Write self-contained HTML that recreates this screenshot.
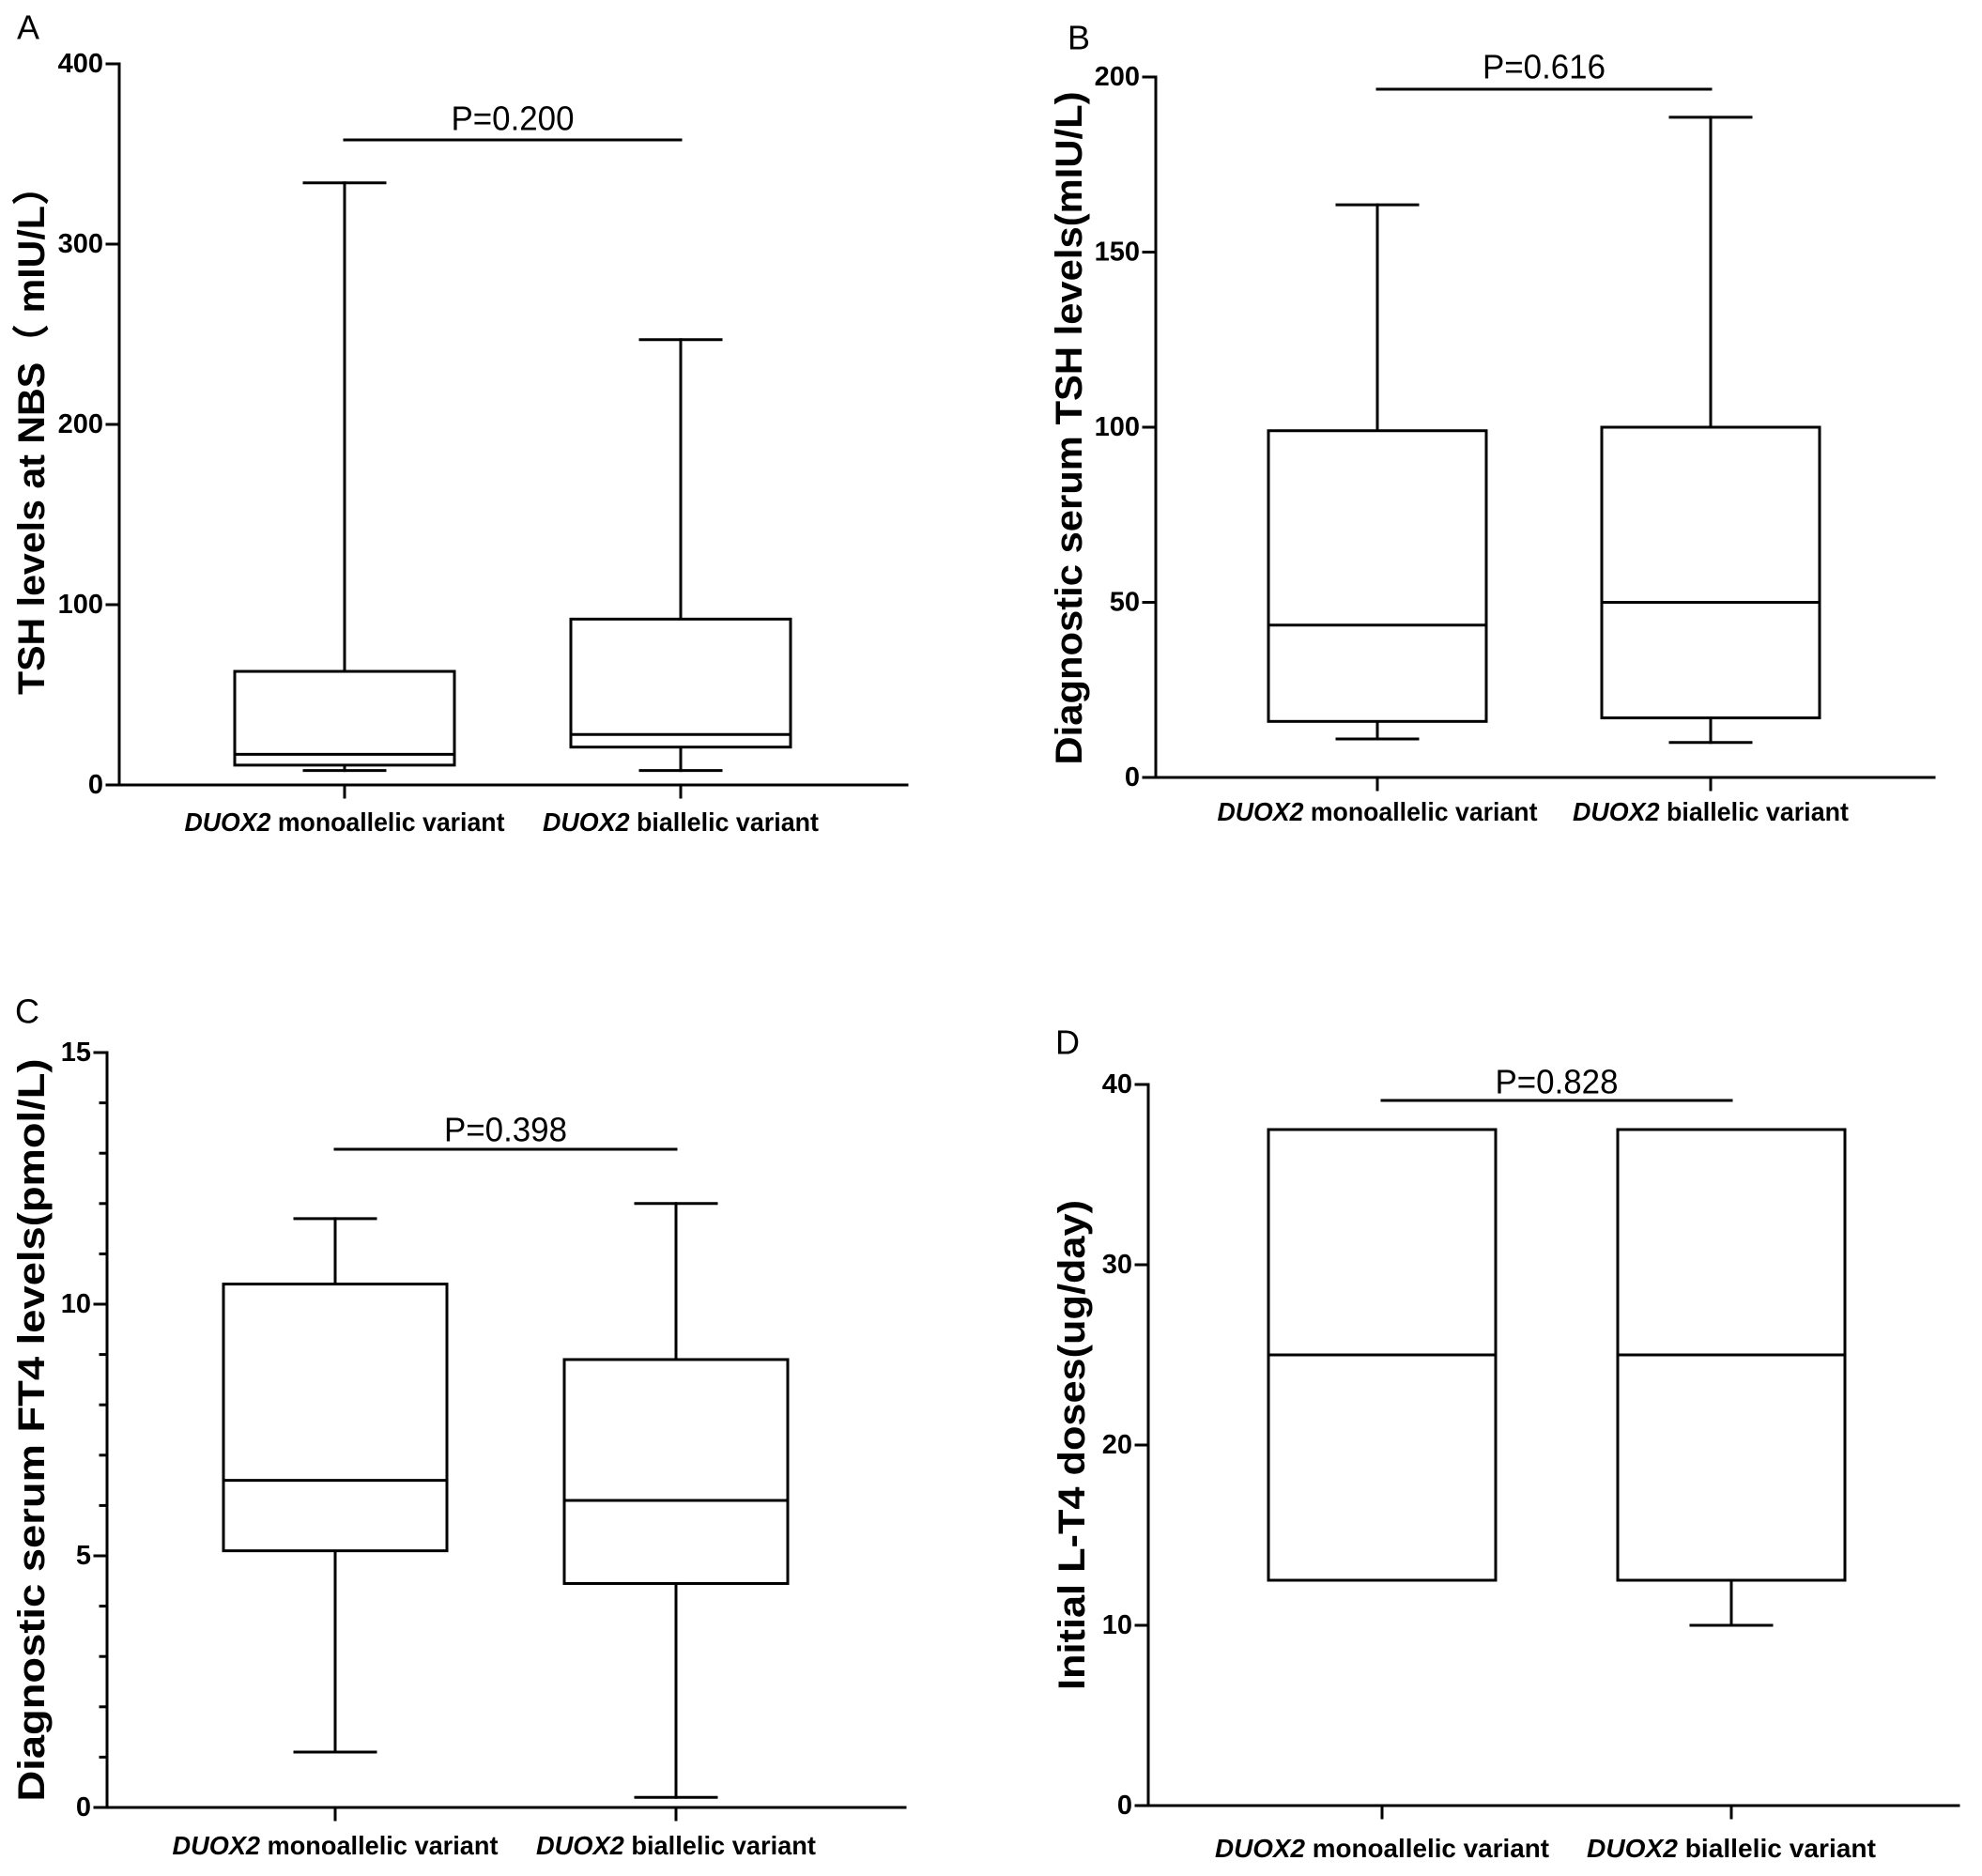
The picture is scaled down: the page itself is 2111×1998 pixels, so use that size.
<!DOCTYPE html>
<html><head><meta charset="utf-8">
<style>
html,body{margin:0;padding:0;background:#fff;}
svg{display:block;}
text{font-family:"Liberation Sans Narrow","Liberation Sans",sans-serif;fill:#000;}
</style></head>
<body>
<svg id="fig" width="2111" height="1998" viewBox="0 0 2111 1998" xmlns="http://www.w3.org/2000/svg"></svg>
<script>
// ---- data ----
const categories = ["monoallelic variant", "biallelic variant"];
// Panel A: TSH at NBS
const aMin = [8, 8];
const aQ1 = [11, 21];
const aMed = [17, 28];
const aQ3 = [63, 92];
const aMax = [334, 247];
const aTicks = [0, 100, 200, 300, 400];
// Panel B: Diagnostic serum TSH
const bMin = [11, 10];
const bQ1 = [16, 17];
const bMed = [43.5, 50];
const bQ3 = [99, 100];
const bMax = [163.5, 188.5];
const bTicks = [0, 50, 100, 150, 200];
// Panel C: FT4
const cMin = [1.1, 0.2];
const cQ1 = [5.1, 4.45];
const cMed = [6.5, 6.1];
const cQ3 = [10.4, 8.9];
const cMax = [11.7, 12.0];
const cTicks = [0, 5, 10, 15];
const cMinorTicks = [1, 2, 3, 4, 6, 7, 8, 9, 11, 12, 13, 14];
// Panel D: L-T4 doses
const dMin = [12.5, 10];
const dQ1 = [12.5, 12.5];
const dMed = [25, 25];
const dQ3 = [37.5, 37.5];
const dMax = [37.5, 37.5];
const dTicks = [0, 10, 20, 30, 40];
const pValues = ["P=0.200", "P=0.616", "P=0.398", "P=0.828"];

const NS = "http://www.w3.org/2000/svg";
const svg = document.getElementById("fig");
function el(tag, attrs, parent, txt){
  const e = document.createElementNS(NS, tag);
  for (const k in attrs) e.setAttribute(k, attrs[k]);
  if (txt !== undefined) e.textContent = txt;
  (parent || svg).appendChild(e);
  return e;
}
function line(g, x1, y1, x2, y2, name){
  const l = el("line", {x1, y1, x2, y2, stroke:"#000", "stroke-width":3, "stroke-linecap":"square"}, g);
  
  
  return l;
}

function panel(cfg){
  const g = el("g", {});
  
  
  const y = v => cfg.y0 - (v - cfg.vmin) / (cfg.vmax - cfg.vmin) * (cfg.y0 - cfg.y1);
  // letter
  const lt = el("text", {x: cfg.letter[0], y: cfg.letter[1], "font-size":36, "dominant-baseline":"middle"}, g, cfg.letterText);
  
  
  // axes
  line(g, cfg.ax, y(cfg.vmax), cfg.ax, cfg.y0, "y-axis");
  line(g, cfg.ax, cfg.y0, cfg.xend, cfg.y0, "x-axis");
  cfg.ticks.forEach(t => {
    line(g, cfg.ax - 13, y(t), cfg.ax, y(t), "y-tick");
    const tx = el("text", {x: cfg.ax - 17, y: y(t), "font-size":29, "font-weight":"bold", "text-anchor":"end", "dominant-baseline":"central"}, g, String(t));
    
    
  });
  (cfg.minor || []).forEach(t => line(g, cfg.ax - 7, y(t), cfg.ax, y(t), "y-minor-tick"));
  // y title
  const yt = el("text", {x: 0, y: 0, "font-size":40, "font-weight":"bold", "text-anchor":"middle", "dominant-baseline":"central",
    textLength: cfg.ylen, lengthAdjust:"spacingAndGlyphs",
    transform:`translate(${cfg.ytx},${cfg.yty}) rotate(-90)`, style:'font-family:"Liberation Sans","Noto Sans CJK SC",sans-serif'}, g, cfg.ytitle);
  
  
  // boxes
  categories.forEach((c, i) => {
    const cx = cfg.cx[i], hw = cfg.hw, cap = 43;
    line(g, cx, cfg.y0, cx, cfg.y0 + 13, "x-tick");
    const bg = el("g", {}, g);
    
    
    const d = cfg.data;
    if (d.max[i] > d.q3[i]) { line(bg, cx, y(d.max[i]), cx, y(d.q3[i]), "upper-whisker"); line(bg, cx - cap, y(d.max[i]), cx + cap, y(d.max[i]), "upper-cap"); }
    if (d.min[i] < d.q1[i]) { line(bg, cx, y(d.q1[i]), cx, y(d.min[i]), "lower-whisker"); line(bg, cx - cap, y(d.min[i]), cx + cap, y(d.min[i]), "lower-cap"); }
    const r = el("rect", {x: cx - hw, y: y(d.q3[i]), width: 2 * hw, height: y(d.q1[i]) - y(d.q3[i]), fill:"#fff", stroke:"#000", "stroke-width":3}, bg);
    
    
    line(bg, cx - hw, y(d.med[i]), cx + hw, y(d.med[i]), "median-line");
    // category label
    const cl = el("text", {x: cx, y: cfg.caty, "font-size":28, "font-weight":"bold", "text-anchor":"middle", "dominant-baseline":"central",
      textLength: cfg.catlen[i], lengthAdjust:"spacingAndGlyphs"}, g);
    
    
    el("tspan", {"font-style":"italic"}, cl, "DUOX2");
    el("tspan", {}, cl, " " + c);
  });
  // significance
  line(g, cfg.cx[0], cfg.py, cfg.cx[1], cfg.py, "significance-bar");
  const pt = el("text", {x: (cfg.cx[0] + cfg.cx[1]) / 2, y: cfg.pty, "font-size":36, "text-anchor":"middle", "dominant-baseline":"central",
    textLength: 131, lengthAdjust:"spacingAndGlyphs"}, g, cfg.p);
  
  
}

panel({name:"panel-a", letterText:"A", letter:[18,32], ax:127, xend:966, y0:836, y1:68, vmin:0, vmax:400, ticks:aTicks,
  cx:[367,725], hw:117, data:{min:aMin,q1:aQ1,med:aMed,q3:aQ3,max:aMax},
  ytitle:"TSH levels at NBS（ mIU/L）", ytx:34, yty:459, ylen:562, caty:875, catlen:[341,294], py:149, pty:126, p:pValues[0]});
panel({name:"panel-b", letterText:"B", letter:[1137,43], ax:1231, xend:2060, y0:828, y1:82, vmin:0, vmax:200, ticks:bTicks,
  cx:[1467,1822], hw:116, data:{min:bMin,q1:bQ1,med:bMed,q3:bQ3,max:bMax},
  ytitle:"Diagnostic serum TSH levels(mIU/L)", ytx:1139, yty:456, ylen:717, caty:864, catlen:[341,294], py:95, pty:71, p:pValues[1]});
panel({name:"panel-c", letterText:"C", letter:[16,1080], ax:114, xend:964, y0:1925, y1:1121, vmin:0, vmax:15, ticks:cTicks, minor:cMinorTicks,
  cx:[357,720], hw:119, data:{min:cMin,q1:cQ1,med:cMed,q3:cQ3,max:cMax},
  ytitle:"Diagnostic serum FT4 levels(pmol/L)", ytx:34, yty:1523, ylen:791, caty:1965, catlen:[347,298], py:1224, pty:1203, p:pValues[2]});
panel({name:"panel-d", letterText:"D", letter:[1124,1113], ax:1223, xend:2086, y0:1923, y1:1155, vmin:0, vmax:40, ticks:dTicks,
  cx:[1472,1844], hw:121, data:{min:dMin,q1:dQ1,med:dMed,q3:dQ3,max:dMax},
  ytitle:"Initial L-T4 doses(ug/day)", ytx:1142, yty:1539, ylen:522, caty:1968, catlen:[356,308], py:1172, pty:1152, p:pValues[3]});
</script>
</body></html>
